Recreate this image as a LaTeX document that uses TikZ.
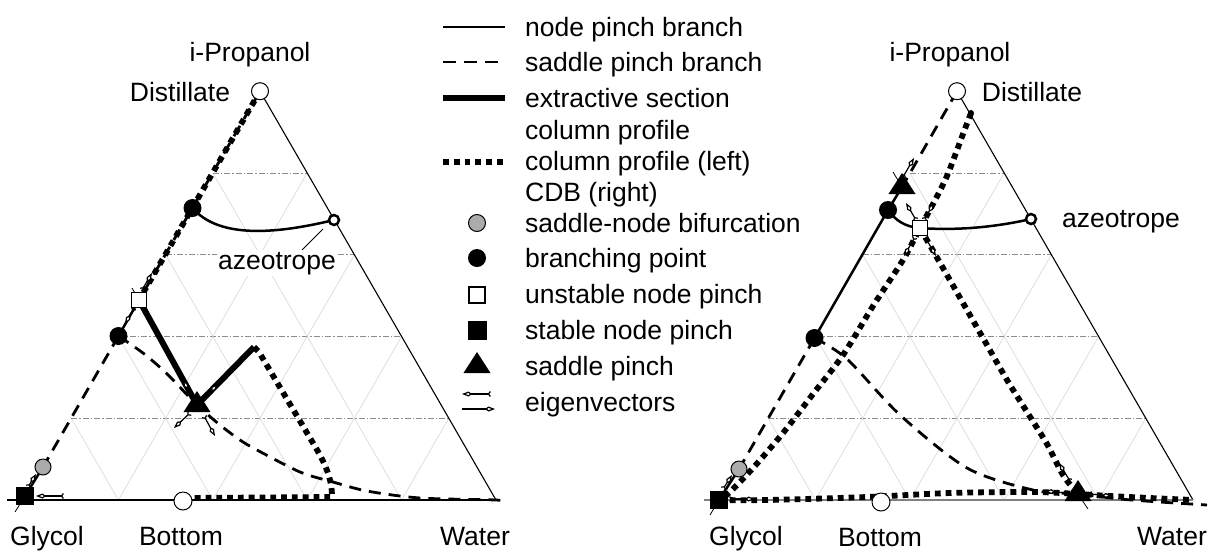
\documentclass[tikz,border=0pt]{standalone}
\usepackage{fontspec}
\setmainfont{Liberation Sans}
\usetikzlibrary{arrows.meta,calc}
\begin{document}
\begin{tikzpicture}[x=1pt,y=-1pt,
 lbl/.style={inner sep=0pt,font=\fontsize{26.5}{30}\selectfont},
 side/.style={line width=1.1pt},
 gridh/.style={line width=0.8pt,black!45,dash pattern=on 6pt off 2pt on 1.5pt off 2pt},
 grids/.style={line width=0.7pt,black!14},
 npb/.style={line width=2.5pt},
 spb/.style={line width=2.8pt,dash pattern=on 12pt off 8pt},
 ext/.style={line width=6pt,line join=round},
 colp/.style={line width=5.8pt,dash pattern=on 5.8pt off 5pt},
 eig/.style={line width=1.2pt,{Straight Barb[reversed,length=2pt,width=5pt]}-{Kite[open,fill=white,length=10pt,width=5pt,inset=3.5pt]}},
 eigh/.style={line width=1.2pt,-{Kite[open,fill=white,length=10pt,width=5pt,inset=3.5pt]}},
 tick/.style={line width=0.8pt},
 wcirc/.style={circle,draw,fill=white,line width=1pt,minimum size=17pt,inner sep=0pt},
 azc/.style={circle,draw,fill=white,line width=2.5pt,minimum size=10pt,inner sep=0pt},
 bcirc/.style={circle,fill=black,minimum size=18pt,inner sep=0pt},
 gcirc/.style={circle,draw,fill=black!33,line width=1pt,minimum size=16pt,inner sep=0pt},
 wsq/.style={rectangle,draw,fill=white,line width=1.6pt,minimum size=15pt,inner sep=0pt},
 bsq/.style={rectangle,fill=black,minimum size=18pt,inner sep=0pt},
 sdot/.style={circle,fill=black,minimum size=6pt,inner sep=0pt},
 sadm/.pic={\fill (-13.5,7) -- (13.5,7) -- (0,-14) -- cycle;},
]
\useasboundingbox (0,0) rectangle (1218,550);

% ================= LEFT TRIANGLE =================
\coordinate (LG) at (24,500);
\coordinate (LW) at (496,500);
\coordinate (LP) at (260,91.2);
\coordinate (Lx) at (7,500);
\foreach \k in {0.2,0.4,0.6,0.8} {
  \draw[grids] ($(LG)!\k!(LW)$) -- ($(LP)!\k!(LW)$);
  \draw[grids] ($(LG)!\k!(LW)$) -- ($(LG)!\k!(LP)$);
  \draw[gridh] ($(LG)!\k!(LP)$) -- ($(LW)!\k!(LP)$);
}
\draw[side] (LP) -- (LW);
\draw[side] (Lx) -- (LW);

\coordinate (Lc1) at (192.5,208);
\coordinate (Lsq) at (139,300);
\coordinate (Lc2) at (118.5,336);
\coordinate (Lgr) at (43,467);
\coordinate (LGs) at (25,496);
\coordinate (Lsad) at (197,405);
\coordinate (Laz) at (334,220);
\coordinate (Lbot) at (183,501);
\coordinate (Lcor) at (254,347);
\coordinate (Lcor2) at (259,352);
\coordinate (Lcp1) at (313,443);
\coordinate (Lcp2) at (332,497);
\coordinate (Lcp3) at (190,498);
\coordinate (Laz1) at (323,229);
\coordinate (Laz2) at (302,250);

% left side
\draw[colp] (LP) -- (Lsq);
\draw[spb] (LP) -- (Lsq);
\draw[npb] (Lsq) -- (Lc2);
\draw[spb] (Lc2) -- (Lgr);
\draw[npb] (Lgr) -- (LGs);
% node pinch branch to azeotrope
\draw[npb] (Lc1) .. controls (220,240) and (280,233) .. (Laz);
\draw[line width=0.8pt] (Laz1) -- (Laz2);
% saddle pinch branch
\draw[spb] plot[smooth] coordinates {(Lc2) (143,353) (163,370) (176,383) (Lsad) (220,425) (240,440) (257,450) (300,472) (333,482) (367,491) (420,498) (LW) (506,502)};
% extractive section
\draw[ext] (Lsq) -- (Lsad) -- (Lcor);
% column profile
\draw[colp] (Lcor) -- (Lcor2) -- (Lcp1) .. controls (325,463) and (332,478) .. (Lcp2) -- (Lcp3);
% eigenvectors
\draw[eig] (142,290) -- (152,273);
\draw[eig] (134,308) -- (125,324);
\draw[eig] (193,398) -- (183,380);
\draw[eig] (204,398) -- (218,384);
\draw[eig] (190,413) -- (174,428);
\draw[eig] (204,416) -- (215,436);
\draw[eig] (28,487) -- (36,474);
\draw[eig] (64,496) -- (36,496);
\draw[tick] (15,512) -- (LGs);
\draw[tick] (132,288) -- (Lsq);
% markers
\node[wcirc] (mLP) at (LP) {};
\node[bcirc] (mLc1) at (Lc1) {};
\node[wsq] (mLsq) at (Lsq) {};
\node[bcirc] (mLc2) at (Lc2) {};
\node[gcirc] (mLgr) at (Lgr) {};
\node[bsq] (mLGs) at (LGs) {};
\node[azc] (mLaz) at (Laz) {};
\node[wcirc,minimum size=18pt] (mLbot) at (Lbot) {};
\pic at (Lsad) {sadm};
% labels
\node[lbl,anchor=base] (tLP) at (250,61) {i-Propanol};
\node[lbl,anchor=base] (tLD) at (180,101) {Distillate};
\node[lbl,anchor=base,fill=white,inner sep=1.5pt] (tLA) at (277,269) {azeotrope};
\node[lbl,anchor=base] (tLG) at (47,545) {Glycol};
\node[lbl,anchor=base] (tLB) at (181,545) {Bottom};
\node[lbl,anchor=base] (tLW) at (475,545) {Water};

% ================= RIGHT TRIANGLE =================
\coordinate (RG) at (721,500);
\coordinate (RW) at (1193,500);
\coordinate (RP) at (957,91.2);
\coordinate (Rx) at (704,500);
\foreach \k in {0.2,0.4,0.6,0.8} {
  \draw[grids] ($(RG)!\k!(RW)$) -- ($(RP)!\k!(RW)$);
  \draw[grids] ($(RG)!\k!(RW)$) -- ($(RG)!\k!(RP)$);
  \draw[gridh] ($(RG)!\k!(RP)$) -- ($(RW)!\k!(RP)$);
}
\draw[side] (RP) -- (RW);
\draw[line width=2pt,black!50] (Rx) -- (RW);

\coordinate (Rsu) at (902,187);
\coordinate (Rc1) at (888,210);
\coordinate (Rc2) at (814.5,338);
\coordinate (Rgr) at (739,469);
\coordinate (RGs) at (719,500);
\coordinate (Rsq) at (920,228);
\coordinate (Raz) at (1031,219);
\coordinate (Rbot) at (881,502);
\coordinate (Rsb) at (1078,494);
\coordinate (Rdot) at (971,113);
\coordinate (Rend) at (1207,505);

% left side
\draw[spb] (RP) -- (Rsu);
\draw[npb] (Rsu) -- (Rc1) -- (Rc2);
\draw[spb] (Rc2) -- (Rgr);
\draw[npb] (Rgr) -- (RGs);
% node pinch curves
\draw[npb] (Rc1) .. controls (895,220) and (905,227) .. (Rsq);
\draw[npb] (Rsq) .. controls (962,231) and (1000,226) .. (Raz);
% saddle branch
\draw[spb] plot[smooth] coordinates {(Rc2) (847,359) (900,415) (967,468) (1033,490) (Rsb) (1120,499) (1160,502) (Rend)};
% CDB dotted
\draw[colp] plot[smooth] coordinates {(Rdot) (963,134) (947,176) (933,204) (Rsq) (903,260) (873,306) (843,355) (813,394) (783,433) (753,468) (730,492) (RGs)};
\draw[colp] plot[smooth] coordinates {(Rsq) (947,275) (967,310) (987,345) (1007,380) (1027,412) (1047,444) (1063,475) (Rsb)};
\draw[colp] plot[smooth] coordinates {(RGs) (767,500) (867,497) (950,493) (1033,492) (Rsb) (1110,496) (1150,498) (RW)};
% eigenvectors
\draw[eig] (903,177) -- (914,158);
\draw[eig] (916,220) -- (906,203);
\draw[eig] (924,220) -- (934,203);
\draw[eig] (915,237) -- (904,256);
\draw[eig] (925,237) -- (936,256);
\draw[eig] (1070,481) -- (1059,463);
\draw[eig] (1066,493) -- (1045,491);
\draw[eig] (1090,494) -- (1112,496);
\draw[eig] (729,499) -- (755,499);
\draw[eig] (723,489) -- (732,475);
\draw[tick] (893,172) -- (Rsu);
\draw[tick] (Rsb) -- (1088,509);
\draw[tick] (710,515) -- (RGs);
% markers
\node[wcirc] (mRP) at (RP) {};
\node[sdot] (mRdot) at (Rdot) {};
\node[bcirc] (mRc1) at (Rc1) {};
\node[bcirc] (mRc2) at (Rc2) {};
\node[gcirc] (mRgr) at (Rgr) {};
\node[bsq] (mRGs) at (RGs) {};
\node[wsq] (mRsq) at (Rsq) {};
\node[azc] (mRaz) at (Raz) {};
\node[wcirc,minimum size=18pt] (mRbot) at (Rbot) {};
\pic at (Rsu) {sadm};
\pic at (Rsb) {sadm};
% labels
\node[lbl,anchor=base] (tRP) at (950,61) {i-Propanol};
\node[lbl,anchor=base] (tRD) at (1032,101) {Distillate};
\node[lbl,anchor=base] (tRA) at (1121,227) {azeotrope};
\node[lbl,anchor=base] (tRG) at (746,545) {Glycol};
\node[lbl,anchor=base] (tRB) at (880,546) {Bottom};
\node[lbl,anchor=base] (tRW) at (1172,545) {Water};

% ================= LEGEND =================
\coordinate (k1a) at (443,27);  \coordinate (k1b) at (505,27);
\coordinate (k2a) at (443,62);  \coordinate (k2b) at (505,62);
\coordinate (k3a) at (443,98);  \coordinate (k3b) at (505,98);
\coordinate (k5a) at (443,162); \coordinate (k5b) at (507,162);
\draw[npb] (k1a) -- (k1b);
\draw[spb,dash pattern=on 13pt off 8pt] (k2a) -- (k2b);
\draw[ext] (k3a) -- (k3b);
\draw[colp] (k5a) -- (k5b);
\node[gcirc,minimum size=17pt] (g7) at (477,223) {};
\node[bcirc] (g8) at (477,258) {};
\node[wsq,minimum size=16pt] (g9) at (477,295) {};
\node[bsq,minimum size=19pt] (g10) at (477,330) {};
\coordinate (g11) at (477,366);
\pic at (g11) {sadm};
\coordinate (e1a) at (491,394); \coordinate (e1b) at (462,394);
\coordinate (e2a) at (462,409); \coordinate (e2b) at (495,409);
\draw[eig] (e1a) -- (e1b);
\draw[eigh] (e2a) -- (e2b);

\node[lbl,anchor=base west] (r1) at (525,36) {node pinch branch};
\node[lbl,anchor=base west] (r2) at (525,71) {saddle pinch branch};
\node[lbl,anchor=base west] (r3) at (525,107) {extractive section};
\node[lbl,anchor=base west] (r4) at (525,139) {column profile};
\node[lbl,anchor=base west] (r5) at (525,170) {column profile (left)};
\node[lbl,anchor=base west] (r6) at (525,201) {CDB (right)};
\node[lbl,anchor=base west] (r7) at (525,232) {saddle-node bifurcation};
\node[lbl,anchor=base west] (r8) at (525,267) {branching point};
\node[lbl,anchor=base west] (r9) at (525,303) {unstable node pinch};
\node[lbl,anchor=base west] (r10) at (525,339) {stable node pinch};
\node[lbl,anchor=base west] (r11) at (525,375) {saddle pinch};
\node[lbl,anchor=base west] (r12) at (525,411) {eigenvectors};
\end{tikzpicture}
\end{document}
